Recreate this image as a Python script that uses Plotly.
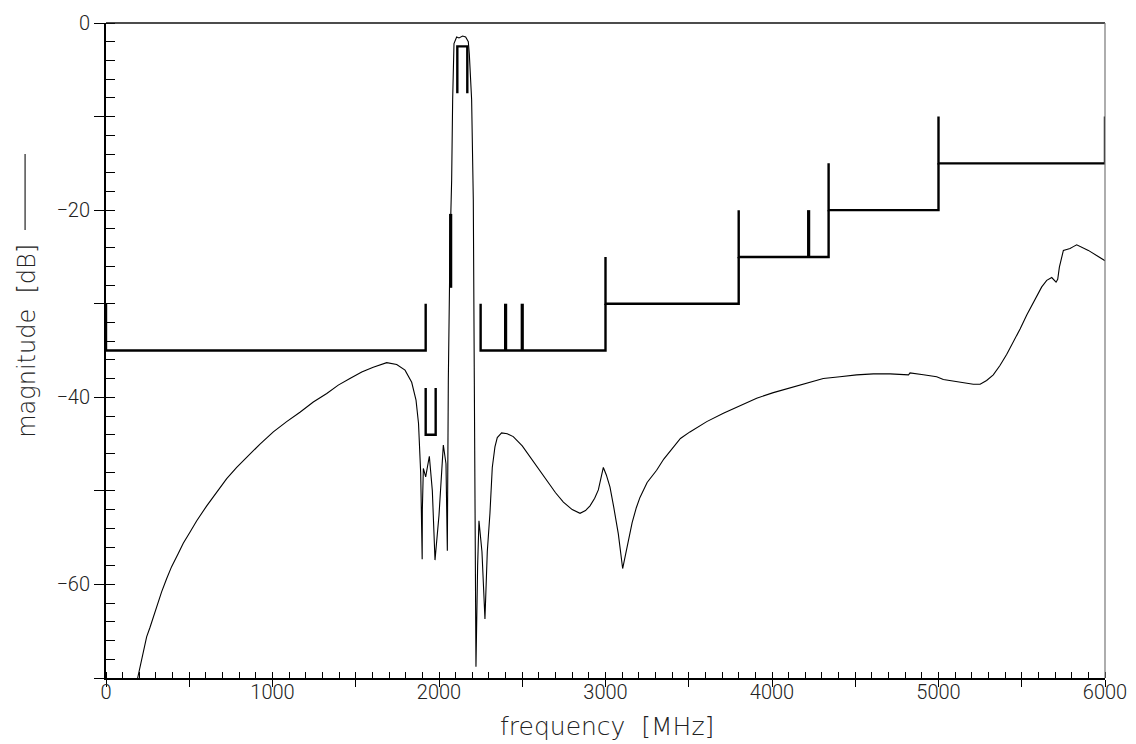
import plotly.graph_objects as go

# ---------------- data ----------------
# measured response (frequency in MHz, magnitude in dB)
resp_freq = [190, 220, 244, 264, 304, 334, 364, 394, 434, 464, 505, 545, 605, 665, 725,
             785, 845, 925, 1005, 1085, 1165, 1245, 1326, 1395, 1465, 1536, 1605, 1686,
             1746, 1796, 1836, 1862, 1877, 1890, 1899, 1900, 1906, 1920, 1942, 1960,
             1976, 1996, 2000, 2026, 2042, 2050, 2056, 2066, 2076, 2082, 2090, 2106,
             2120, 2142, 2160, 2176, 2182, 2196, 2206, 2212, 2222, 2232, 2240, 2258,
             2276, 2290, 2306, 2320, 2336, 2350, 2376, 2410, 2446, 2500, 2547, 2600,
             2647, 2700, 2747, 2800, 2847, 2880, 2907, 2935, 2957, 2975, 2987, 3005,
             3027, 3050, 3077, 3103, 3125, 3137, 3160, 3185, 3207, 3250, 3307, 3350,
             3407, 3450, 3507, 3608, 3708, 3808, 3908, 4008, 4108, 4208, 4308, 4408,
             4508, 4609, 4709, 4820, 4829, 4909, 4989, 5029, 5100, 5160, 5209, 5250,
             5289, 5329, 5369, 5410, 5449, 5490, 5530, 5590, 5620, 5650, 5680, 5706,
             5716, 5726, 5738, 5750, 5770, 5790, 5810, 5830, 5900, 6000]
resp_db = [-70.0, -67.6, -65.6, -64.6, -62.4, -60.8, -59.4, -58.1, -56.7, -55.6, -54.4,
           -53.2, -51.6, -50.1, -48.7, -47.5, -46.4, -45.0, -43.7, -42.6, -41.6, -40.5,
           -39.6, -38.7, -38.0, -37.3, -36.8, -36.3, -36.5, -37.1, -38.4, -40.3, -42.8,
           -48.1, -57.3, -52.0, -47.6, -48.5, -46.3, -50.0, -57.4, -53.2, -52.6, -45.1,
           -47.1, -56.4, -38.2, -24.0, -16.8, -8.2, -2.2, -1.5, -1.6, -1.4, -1.5, -2.0,
           -3.3, -8.2, -18.9, -38.0, -68.8, -58.0, -53.2, -56.5, -63.7, -56.5, -52.4,
           -47.5, -45.3, -44.3, -43.8, -43.9, -44.2, -45.2, -46.4, -47.7, -48.9, -50.2,
           -51.2, -52.0, -52.4, -52.1, -51.6, -50.8, -49.9, -48.5, -47.5, -48.3, -49.6,
           -51.8, -54.6, -58.3, -56.4, -55.6, -53.4, -51.8, -50.7, -49.1, -47.8, -46.6,
           -45.3, -44.4, -43.7, -42.6, -41.7, -40.9, -40.1, -39.5, -39.0, -38.5, -38.0,
           -37.8, -37.6, -37.5, -37.5, -37.6, -37.4, -37.6, -37.8, -38.1, -38.3, -38.5,
           -38.6, -38.6, -38.2, -37.6, -36.6, -35.4, -34.1, -32.7, -31.2, -29.1, -28.2,
           -27.5, -27.2, -27.7, -27.4, -26.1, -25.0, -24.3, -24.2, -24.1, -23.9, -23.7,
           -24.3, -25.4]

# stopband mask segments: start, stop, level (dB); brackets open 5 dB upward
stop_start = [0, 2250, 3000, 3800, 4340, 5000]
stop_stop = [1920, 3000, 3800, 4340, 5000, 6000]
stop_level = [-35, -35, -30, -25, -20, -15]

# Tx-band rejection bracket
tx_start, tx_stop, tx_level = 1920, 1980, -44
# Rx passband (insertion-loss) bracket, opens 5 dB downward
rx_start, rx_stop, rx_level = 2110, 2170, -2.5
bracket_depth = 5

# single spot markers (frequency, low dB, high dB)
spot_freq = [2070, 2400, 2500, 4220]
spot_low = [-28.3, -35, -35, -25]
spot_high = [-20.4, -30, -30, -20]

x_tick_vals = list(range(0, 6001, 500))
x_tick_text = [str(v) if v % 1000 == 0 else "" for v in x_tick_vals]
y_tick_vals = list(range(0, -71, -10))
y_tick_text = ["0", "", "\u221220", "", "\u221240", "", "\u221260", ""]

# ---------------- build mask polylines ----------------
def bracket(a, b, lvl, d):
    return [a, a, b, b, None], [lvl + d, lvl, lvl, lvl + d, None]

mx, my = [], []
for a, b, l in zip(stop_start, stop_stop, stop_level):
    bx, by = bracket(a, b, l, bracket_depth)
    mx += bx
    my += by
tx_x, tx_y = bracket(tx_start, tx_stop, tx_level, bracket_depth)
rx_x, rx_y = bracket(rx_start, rx_stop, rx_level, -bracket_depth)
mx += tx_x + rx_x
my += tx_y + rx_y

sx, sy = [], []
for f, lo, hi in zip(spot_freq, spot_low, spot_high):
    sx += [f, f, None]
    sy += [lo, hi, None]

TICK_FONT = dict(family="Roboto, 'Liberation Sans', sans-serif", size=20,
                 color="#222", weight=300)
XTITLE_FONT = dict(family="'DejaVu Sans', sans-serif", size=25, color="#222",
                   weight=200)
YTITLE_FONT = dict(family="'DejaVu Sans', sans-serif", size=24, color="#222",
                   weight=200)

fig = go.Figure()
fig.add_trace(go.Scatter(x=resp_freq, y=resp_db, mode="lines",
                         line=dict(color="black", width=1.1), showlegend=False))
fig.add_trace(go.Scatter(x=mx, y=my, mode="lines",
                         line=dict(color="black", width=2.4), showlegend=False))
fig.add_trace(go.Scatter(x=sx, y=sy, mode="lines", xaxis="x2", yaxis="y2",
                         line=dict(color="black", width=3.2), showlegend=False))

# page body adds an 8px offset, so the figure is 8px smaller than the window
fig.update_layout(
    width=1128, height=736,
    margin=dict(l=98, r=31, t=15, b=66),
    paper_bgcolor="white", plot_bgcolor="white",
    font=TICK_FONT,
    xaxis=dict(range=[0, 6000], tickmode="array", tickvals=x_tick_vals,
               ticktext=x_tick_text, ticks="outside", ticklen=7, tickwidth=1.3,
               tickcolor="black", showline=True, linecolor="black", linewidth=2,
               showgrid=False, zeroline=False, tickfont=TICK_FONT,
               ticklabelstandoff=-12, automargin=False,
               minor=dict(ticks="inside", tickmode="linear", tick0=0, dtick=100,
                          ticklen=6, tickwidth=1.2, tickcolor="black",
                          showgrid=False)),
    yaxis=dict(range=[-70, 0], tickmode="array", tickvals=y_tick_vals,
               ticktext=y_tick_text, ticks="outside", ticklen=10, tickwidth=1.3,
               tickcolor="black", showline=True, linecolor="black", linewidth=2,
               showgrid=False, zeroline=False, tickfont=TICK_FONT,
               automargin=False,
               minor=dict(ticks="inside", tickmode="linear", tick0=0, dtick=2,
                          ticklen=9, tickwidth=1.2, tickcolor="black",
                          showgrid=False)),
    xaxis2=dict(range=[0, 6000], overlaying="x", anchor="y2", side="bottom",
                tickmode="linear", tick0=0, dtick=500, ticks="inside", ticklen=6,
                tickwidth=1.3, tickcolor="black", showticklabels=False,
                showline=False, showgrid=False, zeroline=False, automargin=False),
    yaxis2=dict(range=[-70, 0], overlaying="y", anchor="x2", side="left",
                tickmode="linear", tick0=0, dtick=10, ticks="inside", ticklen=9,
                tickwidth=1.3, tickcolor="black", showticklabels=False,
                showline=False, showgrid=False, zeroline=False, automargin=False),
)

# frame lines (top, right)
fig.add_shape(type="line", xref="paper", yref="paper", x0=0, x1=1, y0=1, y1=1,
              line=dict(color="#111", width=1.3))
fig.add_shape(type="line", xref="paper", yref="paper", x0=1, x1=1, y0=0, y1=1,
              line=dict(color="#777", width=1.2))
# legend stroke beside the y-axis title
fig.add_shape(type="line", xref="paper", yref="paper", x0=-0.081, x1=-0.081,
              y0=0.684, y1=0.800, line=dict(color="#222", width=1.2))

fig.add_annotation(text="magnitude  [dB]", xref="paper", yref="paper",
                   x=-0.079, y=0.515, textangle=-90, showarrow=False,
                   xanchor="center", yanchor="middle", font=YTITLE_FONT)
fig.add_annotation(text="frequency  [MHz]", xref="paper", yref="paper",
                   x=0.5015, y=-0.074, showarrow=False,
                   xanchor="center", yanchor="middle", font=XTITLE_FONT)

fig.write_html("out.html")
